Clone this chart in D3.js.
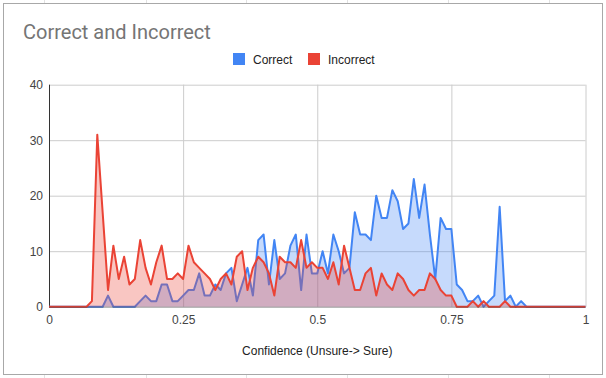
<!DOCTYPE html>
<html>
<head>
<meta charset="utf-8">
<script src="https://cdn.jsdelivr.net/npm/d3@7"></script>
<style>
  html, body { margin: 0; padding: 0; background: #fff; }
  svg { display: block; }
</style>
</head>
<body>
<div id="chart"></div>
<script>
// confidence bins (x axis)
const confidence = [
  0, 0.01, 0.02, 0.03, 0.04, 0.05, 0.06, 0.07, 0.08, 0.09,
  0.1, 0.11, 0.12, 0.13, 0.14, 0.15, 0.16, 0.17, 0.18, 0.19,
  0.2, 0.21, 0.22, 0.23, 0.24, 0.25, 0.26, 0.27, 0.28, 0.29,
  0.3, 0.31, 0.32, 0.33, 0.34, 0.35, 0.36, 0.37, 0.38, 0.39,
  0.4, 0.41, 0.42, 0.43, 0.44, 0.45, 0.46, 0.47, 0.48, 0.49,
  0.5, 0.51, 0.52, 0.53, 0.54, 0.55, 0.56, 0.57, 0.58, 0.59,
  0.6, 0.61, 0.62, 0.63, 0.64, 0.65, 0.66, 0.67, 0.68, 0.69,
  0.7, 0.71, 0.72, 0.73, 0.74, 0.75, 0.76, 0.77, 0.78, 0.79,
  0.8, 0.81, 0.82, 0.83, 0.84, 0.85, 0.86, 0.87, 0.88, 0.89,
  0.9, 0.91, 0.92, 0.93, 0.94, 0.95, 0.96, 0.97, 0.98, 0.99,
  1
];

const correct = [
  0, 0, 0, 0, 0, 0, 0, 0, 0, 0,
  0, 2, 0, 0, 0, 0, 0, 1, 2, 1,
  1, 4, 4, 1, 1, 2, 3, 3, 6, 2,
  2, 4, 3, 6, 7, 1, 4, 7, 2, 12,
  13, 4, 12, 5, 6, 11, 13, 3, 13, 6,
  6, 10, 6, 13, 10, 6, 7, 17, 13, 13,
  12, 20, 16, 16, 21, 19, 14, 15, 23, 16,
  22, 13, 5, 16, 14, 14, 4, 3, 1, 1,
  2, 0, 1, 2, 18, 1, 2, 0, 1, 0,
  0, 0, 0, 0, 0, 0, 0, 0, 0, 0,
  0
];

const incorrect = [
  0, 0, 0, 0, 0, 0, 0, 0, 1, 31,
  17, 3, 11, 5, 9, 4, 5, 12, 7, 4,
  8, 11, 5, 5, 6, 5, 11, 8, 7, 6,
  5, 3, 5, 6, 4, 9, 10, 3, 7, 9,
  8, 6, 2, 9, 8, 8, 7, 12, 7, 8,
  7, 7, 5, 8, 4, 11, 7, 3, 3, 6,
  7, 2, 6, 4, 3, 6, 5, 3, 2, 3,
  3, 6, 5, 3, 2, 2, 0, 0, 0, 1,
  0, 1, 0, 0, 0, 1, 0, 0, 0, 0,
  0, 0, 0, 0, 0, 0, 0, 0, 0, 0,
  0
];

const seriesNames = ['Correct', 'Incorrect'];
const seriesColors = ['#4285f4', '#ea4335'];
const xTicks = [0, 0.25, 0.5, 0.75, 1];
const xTickLabels = ['0', '0.25', '0.5', '0.75', '1'];
const yTicks = [0, 10, 20, 30, 40];

const W = 606, H = 378;
const plot = { left: 49, right: 585.5, top: 84.7, bottom: 306.7 };

const svg = d3.select('#chart').append('svg')
  .attr('width', W).attr('height', H);

// spreadsheet cells peeking out behind the chart box
const sheetCols = [44, 146, 246, 347, 448, 549];
svg.append('g').selectAll('line').data(sheetCols).join('line')
  .attr('x1', d => d + 0.5).attr('x2', d => d + 0.5)
  .attr('y1', 0).attr('y2', H)
  .attr('stroke', '#e2e2e2');

svg.append('rect')
  .attr('x', 3.5).attr('y', 3.5)
  .attr('width', 599).attr('height', 371)
  .attr('fill', '#fff').attr('stroke', '#a8a8a8');

const x = d3.scaleLinear().domain([0, 1]).range([plot.left, plot.right]);
const y = d3.scaleLinear().domain([0, 40]).range([plot.bottom, plot.top]);

// title
svg.append('text')
  .attr('x', 23).attr('y', 38.5)
  .attr('font-family', 'Roboto, Arial, sans-serif')
  .attr('font-size', 20)
  .attr('fill', '#757575')
  .text('Correct and Incorrect');

// gridlines
svg.append('g')
  .attr('transform', `translate(0,${plot.bottom})`)
  .call(d3.axisBottom(x).tickValues(xTicks.slice(1)).tickSize(-(plot.bottom - plot.top)).tickFormat(''))
  .call(g => g.select('.domain').remove())
  .call(g => g.selectAll('line').attr('stroke', '#cccccc'));

svg.append('g')
  .attr('transform', `translate(${plot.left},0)`)
  .call(d3.axisLeft(y).tickValues(yTicks.slice(1)).tickSize(-(plot.right - plot.left)).tickFormat(''))
  .call(g => g.select('.domain').remove())
  .call(g => g.selectAll('line').attr('stroke', '#cccccc'));

// tick labels
svg.append('g')
  .attr('transform', `translate(${plot.left - 6},0)`)
  .call(d3.axisLeft(y).tickValues(yTicks).tickSize(0).tickPadding(0))
  .call(g => g.select('.domain').remove())
  .call(g => g.selectAll('text')
    .attr('font-family', 'Arial, sans-serif')
    .attr('font-size', 12)
    .attr('fill', '#444'));

svg.append('g')
  .attr('transform', `translate(0,${plot.bottom + 9})`)
  .call(d3.axisBottom(x).tickValues(xTicks).tickSize(0).tickPadding(0)
    .tickFormat((d, i) => xTickLabels[i]))
  .call(g => g.select('.domain').remove())
  .call(g => g.selectAll('text')
    .attr('font-family', 'Arial, sans-serif')
    .attr('font-size', 12)
    .attr('fill', '#444'));

// axis title
svg.append('text')
  .attr('x', (plot.left + plot.right) / 2).attr('y', 355)
  .attr('text-anchor', 'middle')
  .attr('font-family', 'Arial, sans-serif')
  .attr('font-size', 12)
  .attr('fill', '#222')
  .text('Confidence (Unsure-> Sure)');

// left axis line
svg.append('line')
  .attr('x1', plot.left + 0.5).attr('x2', plot.left + 0.5)
  .attr('y1', plot.top).attr('y2', plot.bottom)
  .attr('stroke', '#333');

// areas + lines
const allSeries = [correct, incorrect];
const area = d3.area()
  .x((d, i) => x(confidence[i]))
  .y0(y(0))
  .y1(d => y(d));
const line = d3.line()
  .x((d, i) => x(confidence[i]))
  .y(d => y(d));

const seriesG = svg.append('g');
allSeries.forEach((vals, k) => {
  seriesG.append('path')
    .attr('d', area(vals))
    .attr('fill', seriesColors[k])
    .attr('fill-opacity', 0.3);
  seriesG.append('path')
    .attr('d', line(vals))
    .attr('fill', 'none')
    .attr('stroke', seriesColors[k])
    .attr('stroke-width', 2)
    .attr('stroke-linejoin', 'round');
});

// baseline
svg.append('line')
  .attr('x1', plot.left).attr('x2', plot.right)
  .attr('y1', plot.bottom + 0.5).attr('y2', plot.bottom + 0.5)
  .attr('stroke', '#333')
  .attr('stroke-opacity', 0.5);

// legend
const legendItems = [
  { name: seriesNames[0], color: seriesColors[0], x: 233 },
  { name: seriesNames[1], color: seriesColors[1], x: 308 }
];
const legend = svg.append('g');
legendItems.forEach(it => {
  legend.append('rect')
    .attr('x', it.x).attr('y', 53)
    .attr('width', 12).attr('height', 12)
    .attr('fill', it.color);
  legend.append('text')
    .attr('x', it.x + 20).attr('y', 63.5)
    .attr('font-family', 'Arial, sans-serif')
    .attr('font-size', 12)
    .attr('fill', '#222')
    .text(it.name);
});
</script>
</body>
</html>
